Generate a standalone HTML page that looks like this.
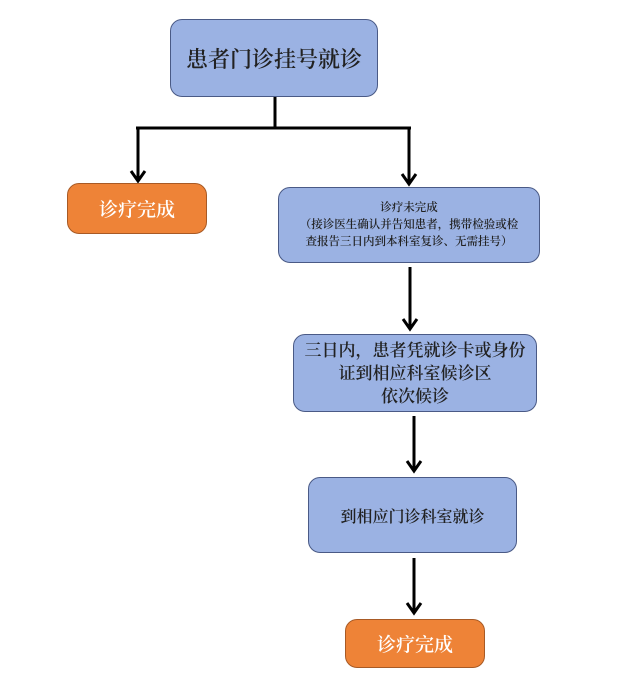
<!DOCTYPE html>
<html><head><meta charset="utf-8"><style>
body{margin:0;width:640px;height:675px;background:#fff;position:relative;overflow:hidden;font-family:"Liberation Serif","Noto Serif CJK SC",serif;font-weight:600;}
.b{position:absolute;box-sizing:border-box;background:#9bb2e3;border:1.5px solid #4a5a86;border-radius:12px;display:flex;align-items:center;justify-content:center;text-align:center;color:#222;}
.o{background:#ee8337;border-color:#a85a25;color:#fff;}
svg{position:absolute;left:0;top:0;}
</style></head><body>
<svg width="640" height="675">
<g stroke="#000" stroke-width="3" fill="none" stroke-linejoin="miter">
<path d="M275,97 V128 M136,128 H411"/>
<path d="M138,127 V181 M131,171 L138,181 L145,171"/>
<path d="M409,127 V184 M402,174 L409,184 L416,174"/>
<path d="M410,267 V329 M403,319 L410,329 L417,319"/>
<path d="M414,416 V471 M407,461 L414,471 L421,461"/>
<path d="M414,558 V613 M407,603 L414,613 L421,603"/>
</g></svg>
<div class="b" style="left:170px;top:19px;width:208px;height:78px;font-size:22px;">患者门诊挂号就诊</div>
<div class="b o" style="left:67px;top:183px;width:140px;height:51px;font-size:19px;">诊疗完成</div>
<div class="b" style="left:278px;top:187px;width:262px;height:76px;font-size:11.5px;line-height:17px;">诊疗未完成<br>（接诊医生确认并告知患者，携带检验或检<br>查报告三日内到本科室复诊、无需挂号）</div>
<div class="b" style="left:293px;top:334px;width:244px;height:78px;font-size:17px;line-height:23px;">三日内，患者凭就诊卡或身份<br>证到相应科室候诊区<br>依次候诊</div>
<div class="b" style="left:308px;top:477px;width:209px;height:76px;font-size:16px;">到相应门诊科室就诊</div>
<div class="b o" style="left:345px;top:619px;width:140px;height:49px;font-size:19px;">诊疗完成</div>
</body></html>
